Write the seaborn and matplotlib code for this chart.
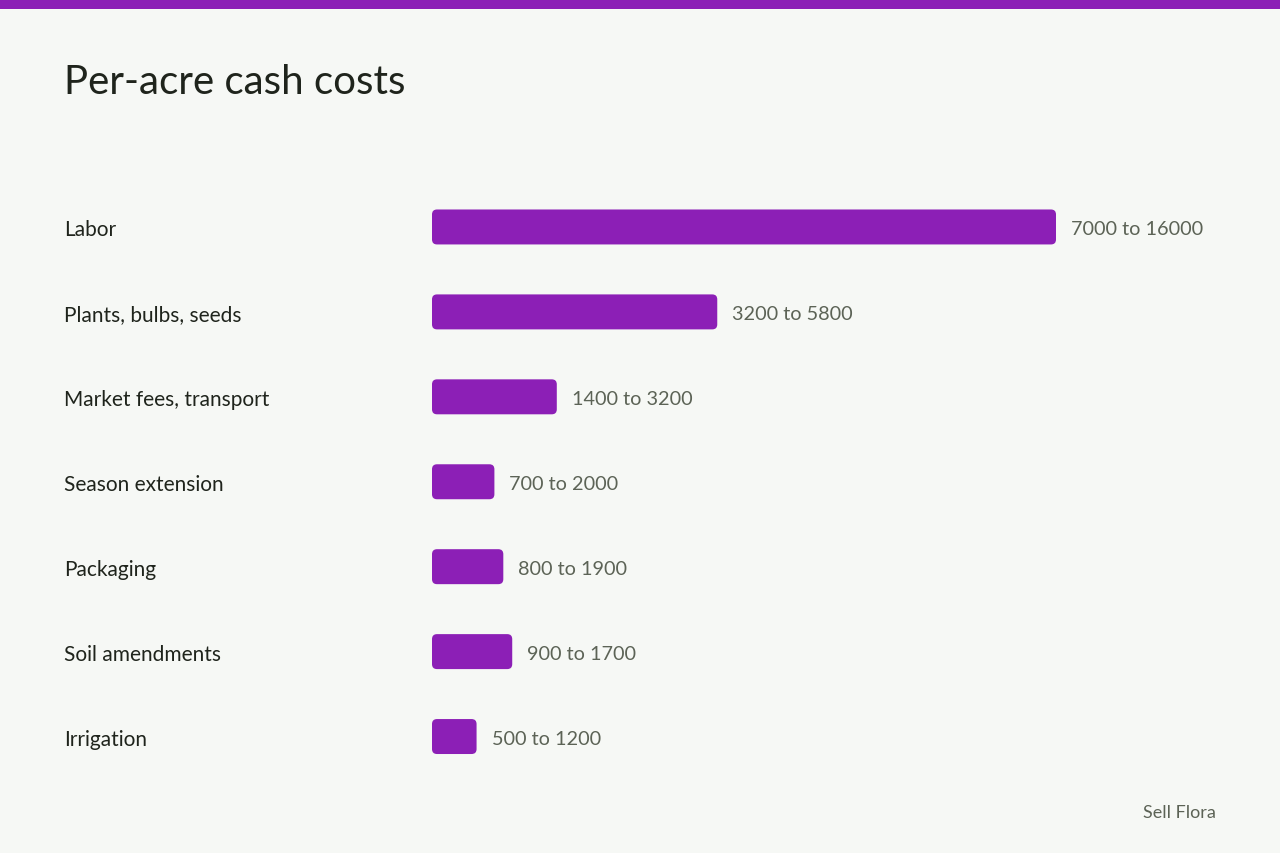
import numpy as np
import pandas as pd
import seaborn as sns
import matplotlib.pyplot as plt
from matplotlib.patches import FancyBboxPatch, Rectangle
import matplotlib.transforms as mtransforms

# --- data ---
categories = ["Labor", "Plants, bulbs, seeds", "Market fees, transport",
              "Season extension", "Packaging", "Soil amendments", "Irrigation"]
low = [7000, 3200, 1400, 700, 800, 900, 500]
high = [16000, 5800, 3200, 2000, 1900, 1700, 1200]

BG = "#F6F8F5"
PURPLE = "#8C1FB6"
DARK = "#1F241C"
GRAY = "#5C6356"

sns.set_theme(style="white")
plt.rcParams["font.family"] = ["Lato", "DejaVu Sans"]

fig = plt.figure(figsize=(12.8, 8.54), dpi=100)
fig.patch.set_facecolor(BG)

# top band
fig.patches.append(Rectangle((0, 1 - 10 / 854), 1, 10 / 854, transform=fig.transFigure,
                             facecolor=PURPLE, edgecolor="none"))

ax = fig.add_axes([432 / 1280, 1 - 780 / 854, 784 / 1280, 594.5 / 854])
ax.set_facecolor(BG)

df = pd.DataFrame({"category": categories, "low": low, "high": high})
sns.barplot(data=df, x="low", y="category", orient="h", color=PURPLE,
            width=35 / 85, saturation=1, ax=ax)

xmax = 784 / 624 * 7000
ax.set_xlim(0, xmax)
ax.set_ylim(len(categories) - 0.5, -0.5)

# rounded bars
x_per_px = xmax / 784
y_per_px = len(categories) / 594.5
r = 5 * x_per_px
for p in list(ax.patches):
    x0, y0, w, h = p.get_x(), p.get_y(), p.get_width(), p.get_height()
    p.remove()
    ax.add_patch(FancyBboxPatch((x0, y0), w, h,
                                boxstyle=f"round,pad=0,rounding_size={r}",
                                mutation_aspect=y_per_px / x_per_px,
                                facecolor=PURPLE, edgecolor="none"))

for s in ax.spines.values():
    s.set_visible(False)
ax.set_xticks([])
ax.set_yticks([])
ax.set_xlabel("")
ax.set_ylabel("")

lab_tr = mtransforms.blended_transform_factory(fig.transFigure, ax.transData)
dy = 2 * y_per_px
for i, (c, lo, hi) in enumerate(zip(categories, low, high)):
    ax.text(64 / 1280, i + dy, c, transform=lab_tr, ha="left", va="center",
            fontsize=15, color=DARK)
    ax.text(lo + 15 * x_per_px, i + dy, f"{lo} to {hi}", ha="left", va="center",
            fontsize=14.3, color=GRAY)

fig.text(64 / 1280, 1 - 82 / 854, "Per-acre cash costs", ha="left", va="center",
         fontsize=29, color=DARK)
fig.text(1216 / 1280, 1 - 813 / 854, "Sell Flora", ha="right", va="center",
         fontsize=13, color=GRAY)

fig.savefig("out.png", dpi=100, facecolor=BG)
